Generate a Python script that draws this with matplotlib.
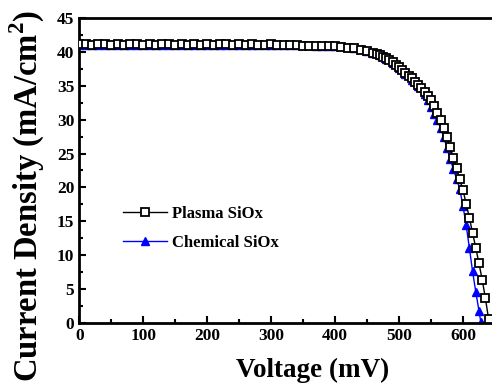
import numpy as np
import matplotlib
matplotlib.use('Agg')
import matplotlib.pyplot as plt
from matplotlib.ticker import MultipleLocator

plt.rcParams['font.family'] = 'Liberation Serif'
plt.rcParams['font.weight'] = 'bold'
plt.rcParams['mathtext.fontset'] = 'custom'
plt.rcParams['mathtext.rm'] = 'Liberation Serif:bold'
plt.rcParams['mathtext.bf'] = 'Liberation Serif:bold'

# --- данные ---
v_plasma = [0, 10, 20, 30, 40, 50, 60, 70, 80, 90, 100, 110, 120, 130, 140, 150,
            160, 170, 180, 190, 200, 210, 220, 230, 240, 250, 260, 270, 280, 290,
            300, 310, 320, 330, 340, 350, 360, 370, 380, 390, 400, 410, 420, 430,
            440, 450, 460, 465, 470, 475, 480, 485, 490, 495, 500, 505, 510, 515,
            520, 525, 530, 535, 540, 545, 550, 555, 560, 565, 570, 575, 580, 585,
            590, 595, 600, 605, 610, 615, 620, 625, 630, 635, 640]
j_plasma = [41.1, 41.1, 41.0, 41.1, 41.1, 41.0, 41.1, 41.0, 41.1, 41.1, 41.0, 41.1,
            41.0, 41.1, 41.1, 41.0, 41.1, 41.0, 41.1, 41.0, 41.1, 41.0, 41.1, 41.1,
            41.0, 41.1, 41.0, 41.1, 41.0, 41.0, 41.1, 41.0, 41.0, 41.0, 41.0, 40.9,
            40.9, 40.9, 40.9, 40.8, 40.8, 40.7, 40.6, 40.5, 40.3, 40.1, 39.9, 39.7,
            39.5, 39.3, 39.1, 38.8, 38.5, 38.1, 37.7, 37.3, 36.9, 36.5, 36.1, 35.6,
            35.1, 34.6, 34.1, 33.5, 32.9, 32.0, 31.0, 30.0, 28.8, 27.4, 25.9, 24.4,
            22.9, 21.2, 19.6, 17.6, 15.5, 13.3, 11.1, 8.8, 6.4, 3.7, 0.6]

v_chem = [0, 10, 20, 30, 40, 50, 60, 70, 80, 90, 100, 110, 120, 130, 140, 150,
          160, 170, 180, 190, 200, 210, 220, 230, 240, 250, 260, 270, 280, 290,
          300, 310, 320, 330, 340, 350, 360, 370, 380, 390, 400, 410, 420, 430,
          440, 450, 460, 470, 480, 490, 500, 510, 520, 530, 540, 545, 550, 555,
          560, 565, 570, 575, 580, 585, 590, 595, 600, 605, 610, 615, 620, 625, 628]
j_chem = [41.0, 41.0, 41.0, 41.0, 41.0, 41.0, 41.0, 41.0, 41.0, 41.0, 41.0, 41.0,
          41.0, 41.0, 41.0, 41.0, 41.0, 41.0, 41.0, 41.0, 41.0, 41.0, 41.0, 41.0,
          41.0, 41.0, 41.0, 41.0, 41.0, 41.0, 41.0, 41.0, 41.0, 41.0, 41.0, 41.0,
          41.0, 40.9, 40.9, 40.9, 40.9, 40.8, 40.7, 40.6, 40.4, 40.2, 39.9, 39.5,
          39.0, 38.4, 37.6, 36.8, 35.9, 35.0, 33.8, 32.9, 31.9, 30.9, 29.9, 28.8,
          27.4, 25.8, 24.2, 22.7, 21.3, 19.7, 17.3, 14.4, 11.1, 7.6, 4.6, 1.8, 0.1]

fig = plt.figure(figsize=(4.92, 3.91), dpi=100)
ax = fig.add_axes([0.161, 0.174, 0.845, 0.780])

ax.plot(v_chem, j_chem, '-', color='blue', lw=1, marker='^', ms=5.5,
        mfc='blue', mec='blue', label='Chemical SiOx', zorder=2)
ax.plot(v_plasma, j_plasma, '-', color='black', lw=1, marker='s', ms=5.5,
        mfc='white', mec='black', mew=1.3, label='Plasma SiOx', zorder=3)

ax.set_xlim(0, 650)
ax.set_ylim(0, 45)
ax.xaxis.set_major_locator(MultipleLocator(100))
ax.xaxis.set_minor_locator(MultipleLocator(50))
ax.yaxis.set_major_locator(MultipleLocator(5))
ax.yaxis.set_minor_locator(MultipleLocator(2.5))
ax.tick_params(which='both', direction='in', labelsize=12.5, width=1.5)
ax.tick_params(which='major', length=5)
ax.tick_params(which='minor', length=3)
for s in ['left', 'bottom', 'top']:
    ax.spines[s].set_linewidth(2)
ax.spines['right'].set_visible(False)

ax.set_xlabel('Voltage (mV)', fontsize=19.5, fontweight='bold')
ax.xaxis.set_label_coords(0.5625, -0.115)
ax.set_ylabel(r'Current Density (mA/cm$^2$)', fontsize=23.5, fontweight='bold')
ax.yaxis.set_label_coords(-0.078, 0.415)

h, l = ax.get_legend_handles_labels()
ax.legend(h[::-1], l[::-1], loc='center left', bbox_to_anchor=(0.07, 0.31),
          frameon=False, fontsize=12, handlelength=2.6, handletextpad=0.3,
          labelspacing=0.75)

fig.savefig('out.png', dpi=100)
